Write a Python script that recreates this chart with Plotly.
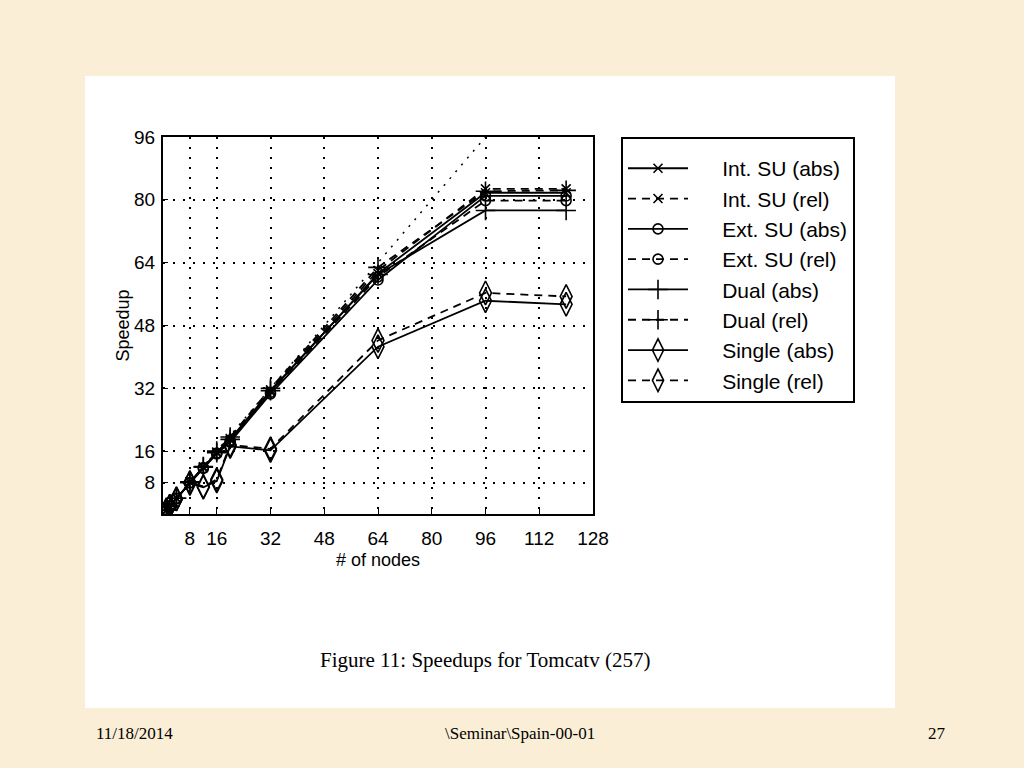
import plotly.graph_objects as go

# ---- data ----
nodes = [1, 2, 4, 8, 12, 16, 20, 32, 64, 96, 120]
int_abs = [1, 2, 4, 8.1, 11.8, 15.6, 18.8, 31.2, 61.2, 81.8, 81.8]
int_rel = [1, 2, 4, 8.2, 12.0, 15.8, 19.2, 31.6, 62.0, 82.8, 82.8]
ext_abs = [1, 2, 3.9, 7.9, 11.6, 15.3, 18.3, 30.6, 59.6, 81.0, 81.0]
ext_rel = [1, 2, 4, 8.0, 11.8, 15.5, 18.6, 31.0, 60.4, 79.8, 79.8]
dual_abs = [1, 2, 4, 8.0, 11.9, 15.6, 19.0, 31.4, 61.0, 77.3, 77.3]
dual_rel = [1, 2, 4, 8.2, 12.1, 16.0, 19.6, 32.0, 62.8, 82.2, 82.4]
single_abs = [1, 2, 3.8, 7.8, 6.8, 8.4, 17.2, 16.2, 42.6, 54.3, 53.4]
single_rel = [1, 2, 3.9, 8.0, 7.0, 8.8, 17.6, 16.6, 44.2, 56.3, 55.4]

ideal_x = [0, 96]
ideal_y = [0, 96]

x_ticks = [8, 16, 32, 48, 64, 80, 96, 112, 128]
y_ticks = [8, 16, 32, 48, 64, 80, 96]

series = [
    ("Int. SU (abs)", int_abs, "solid", "x-thin-open", 9),
    ("Int. SU (rel)", int_rel, "dash", "x-thin-open", 9),
    ("Ext. SU (abs)", ext_abs, "solid", "circle-open", 10),
    ("Ext. SU (rel)", ext_rel, "dash", "circle-open", 10),
    ("Dual (abs)", dual_abs, "solid", "cross-thin-open", 14),
    ("Dual (rel)", dual_rel, "dash", "cross-thin-open", 14),
    ("Single (abs)", single_abs, "solid", "diamond-tall-open", 17),
    ("Single (rel)", single_rel, "dash", "diamond-tall-open", 17),
]

SANS = "Liberation Sans, Arial, Helvetica, sans-serif"
SERIF = "Liberation Serif, Times New Roman, DejaVu Serif, serif"
BEIGE = "#FAEFD6"
PAD = "\u00a0\u00a0\u00a0\u00a0\u00a0"

fig = go.Figure()

fig.add_trace(go.Scatter(
    x=ideal_x, y=ideal_y, mode="lines", showlegend=False, hoverinfo="skip",
    line=dict(color="black", width=1.5, dash="2px,7px"),
))

for name, vals, dash, sym, size in series:
    fig.add_trace(go.Scatter(
        x=nodes, y=vals, name=PAD + name, mode="lines+markers",
        line=dict(color="black", width=1.8, dash="8px,6px" if dash == "dash" else "solid"),
        marker=dict(symbol=sym, size=size, color="black",
                    line=dict(color="black", width=1.6)),
    ))

W, H = 1024, 768
def px(x):
    return x / W
def py(y):
    return 1 - y / H

fig.update_layout(
    width=W, height=H,
    margin=dict(l=0, r=0, t=0, b=0, autoexpand=False),
    paper_bgcolor=BEIGE,
    plot_bgcolor="white",
    font=dict(family=SANS, color="black", size=19),
    xaxis=dict(
        domain=[px(163), px(593)], range=[0, 128],
        tickmode="array", tickvals=x_ticks, ticktext=[str(v) for v in x_ticks],
        showgrid=True, gridcolor="black", griddash="2px,8px", gridwidth=1.6,
        showline=True, linecolor="black", linewidth=2, mirror=True,
        ticks="inside", ticklen=5, tickcolor="black", zeroline=False,
        tickfont=dict(family=SANS, size=19),
        ticklabelstandoff=6, automargin=False,
        title=dict(text="# of nodes", font=dict(family=SANS, size=18), standoff=6),
    ),
    yaxis=dict(
        domain=[py(514), py(137)], range=[0, 96],
        tickmode="array", tickvals=y_ticks, ticktext=[str(v) for v in y_ticks],
        showgrid=True, gridcolor="black", griddash="2px,8px", gridwidth=1.6,
        showline=True, linecolor="black", linewidth=2, mirror=True,
        ticks="inside", ticklen=5, tickcolor="black", zeroline=False,
        tickfont=dict(family=SANS, size=19),
        ticklabelstandoff=2, automargin=False,
        title=dict(text="Speedup", font=dict(family=SANS, size=18), standoff=0),
    ),
    legend=dict(
        x=px(621), y=py(137), xanchor="left", yanchor="top",
        bgcolor="white", bordercolor="black", borderwidth=2,
        font=dict(family=SANS, size=21, color="black"),
        itemwidth=60, tracegroupgap=0,
        title=dict(text="\u00a0", font=dict(size=7)),
    ),
    shapes=[
        dict(type="rect", xref="paper", yref="paper", layer="below",
             x0=px(85), x1=px(895), y0=py(708), y1=py(76),
             fillcolor="white", line=dict(width=0)),
    ],
    annotations=[
        dict(text="Figure 11: Speedups for Tomcatv (257)", xref="paper", yref="paper",
             x=px(485), y=py(660), xanchor="center", yanchor="middle", showarrow=False,
             font=dict(family=SERIF, size=21, color="black")),
        dict(text="11/18/2014", xref="paper", yref="paper",
             x=px(134), y=py(733), xanchor="center", yanchor="middle", showarrow=False,
             font=dict(family=SERIF, size=17, color="black")),
        dict(text="\\Seminar\\Spain-00-01", xref="paper", yref="paper",
             x=px(520), y=py(733), xanchor="center", yanchor="middle", showarrow=False,
             font=dict(family=SERIF, size=17, color="black")),
        dict(text="27", xref="paper", yref="paper",
             x=px(937), y=py(733), xanchor="center", yanchor="middle", showarrow=False,
             font=dict(family=SERIF, size=17, color="black")),
    ],
)

fig.write_html(
    "out.html",
    config={"displayModeBar": False},
    post_script="document.body.style.margin='0';document.body.style.background='" + BEIGE + "';",
)
